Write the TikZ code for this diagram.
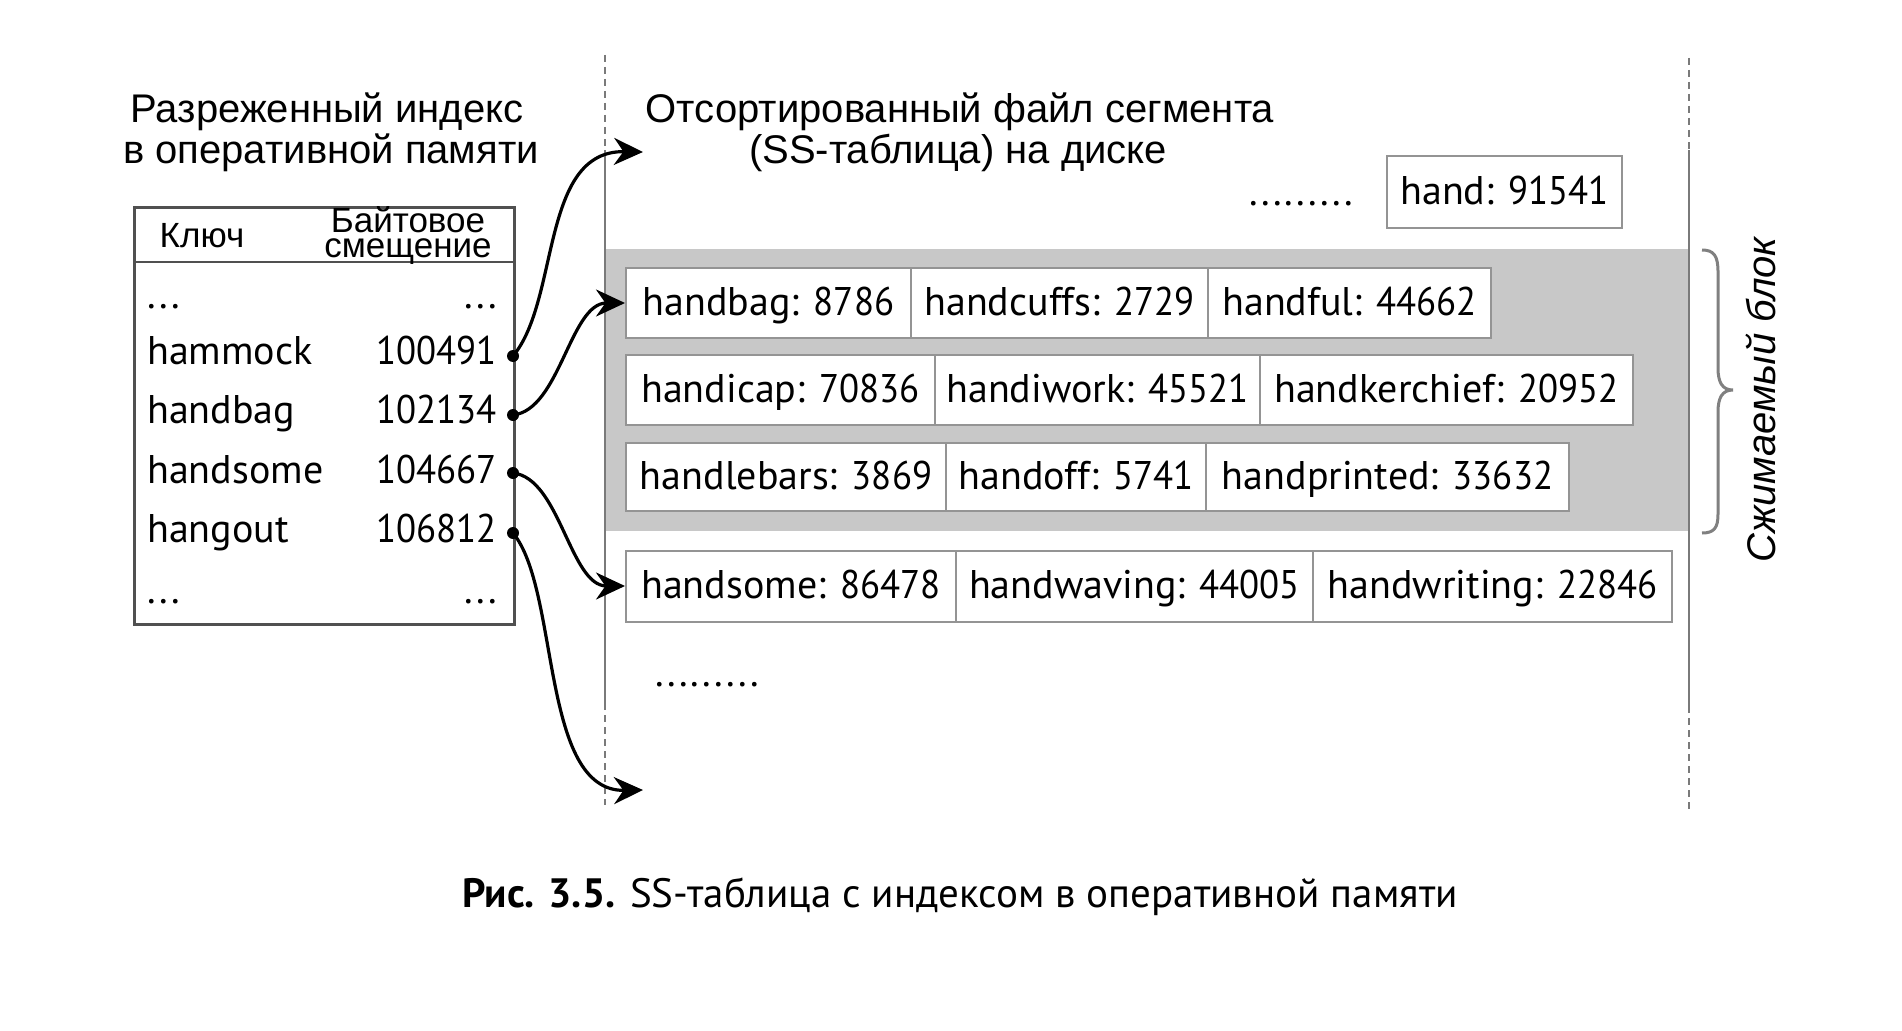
\documentclass[tikz,border=0pt]{standalone}
\usepackage{fontspec}
\setmainfont{Liberation Sans}
\newfontfamily\kvfont{PT Sans}
\newfontfamily\numfont{PT Sans}[FakeStretch=0.92]
\newfontfamily\capfont{PT Sans}
\newcommand\nf[1]{{\numfont #1}}
\newcommand\leaddots{.\kern3.3pt.\kern3.3pt.\kern3.3pt.\kern3.3pt.\kern3.3pt.\kern3.3pt.\kern3.3pt.\kern3.3pt.}
\newcommand\tdots{.\kern3.5pt.\kern3.5pt.}
\usetikzlibrary{arrows.meta}
\definecolor{blockgray}{HTML}{C8C8C8}
\definecolor{boxline}{HTML}{949494}
\definecolor{axisline}{HTML}{7A7A7A}
\definecolor{tblline}{HTML}{505050}
\definecolor{bracegray}{HTML}{808080}
\begin{document}
\begin{tikzpicture}[x=1pt,y=-1pt,
  kv/.style={draw=boxline, fill=white, line width=2pt, minimum height=70pt, anchor=west, inner sep=0pt, text height=31pt, text depth=7pt, font=\kvfont\fontsize{40}{48}\selectfont},
  tk/.style={inner sep=0pt, font=\kvfont\fontsize{40}{48}\selectfont},
  ttl/.style={anchor=base, inner sep=0pt, font=\fontsize{40}{40}\selectfont},
  hd/.style={anchor=base, inner sep=0pt, font=\fontsize{35}{25}\selectfont},
  dot/.style={circle, fill=black, inner sep=0pt, minimum size=12pt},
  arr/.style={line width=3.2pt, -{Stealth[length=29pt,width=27pt]}},
  axis/.style={axisline, line width=2.5pt}
]
\fill[white] (0,0) rectangle (1902,1030);
\useasboundingbox (0,0) rectangle (1902,1030);

% titles
\node[ttl] (t1a) at (327,122) {Разреженный индекс};
\node[ttl] (t1b) at (331,163) {в оперативной памяти};
\node[ttl] (t2a) at (960,122) {Отсортированный файл сегмента};
\node[ttl] (t2b) at (958,163) {(SS-таблица) на диске};

% gray block
\fill[blockgray] (605,249) rectangle (1689,531);

% vertical lines
\draw[axis, dash pattern=on 7pt off 5pt] (605,55) -- (605,805);
\draw[axis] (605,150) -- (605,710);
\draw[axis, dash pattern=on 7pt off 5pt] (1689,58) -- (1689,810);
\draw[axis] (1689,150) -- (1689,712);

% segment file entries
\node[kv, minimum width=235pt, minimum height=72pt] (hand) at (1386,192) {hand: \nf{91541}};
\node[tk, anchor=base] (lead1) at (1301,205) {\leaddots};

\node[kv, minimum width=285pt] (bag) at (625,303) {handbag: \nf{8786}};
\node[kv, minimum width=297pt] (cuffs) at (910,303) {handcuffs: \nf{2729}};
\node[kv, minimum width=283pt] (ful) at (1207,303) {handful: \nf{44662}};

\node[kv, minimum width=309pt] (icap) at (625,390) {handicap: \nf{70836}};
\node[kv, minimum width=325pt] (work) at (934,390) {handiwork: \nf{45521}};
\node[kv, minimum width=373pt] (kerch) at (1259,390) {handkerchief: \nf{20952}};

\node[kv, minimum width=320pt, minimum height=68pt] (bars) at (625,477) {handlebars: \nf{3869}};
\node[kv, minimum width=260pt, minimum height=68pt] (off) at (945,477) {handoff: \nf{5741}};
\node[kv, minimum width=363pt, minimum height=68pt] (print) at (1205,477) {handprinted: \nf{33632}};

\node[kv, minimum width=330pt, minimum height=71pt] (some) at (625,586) {handsome: \nf{86478}};
\node[kv, minimum width=357pt, minimum height=71pt] (wav) at (955,586) {handwaving: \nf{44005}};
\node[kv, minimum width=359pt, minimum height=71pt] (writ) at (1312,586) {handwriting: \nf{22846}};

\node[tk, anchor=base] (lead2) at (707,686) {\leaddots};

% brace and label
\draw[bracegray, line width=3pt] (1702,250) .. controls (1714,250) and (1718,256) .. (1718,272) -- (1718,368) .. controls (1718,382) and (1722,390) .. (1733,390) .. controls (1722,390) and (1718,398) .. (1718,412) -- (1718,514) .. controls (1718,528) and (1714,533) .. (1702,533);
\node[rotate=90, anchor=base, inner sep=0pt, font=\itshape\fontsize{40}{48}\selectfont] (cblock) at (1775,400) {Сжимаемый блок};

% sparse index table
\node[draw=tblline, line width=2.5pt, minimum width=380pt, minimum height=417pt, anchor=north west, inner sep=0pt] (tbl) at (133,206) {};
\draw[tblline, line width=2.5pt] (133,262) -- (513,262);
\node[hd] (hkey) at (202,247) {Ключ};
\node[hd, anchor=center, align=center] (hoff) at (408,235) {Байтовое\\смещение};

\node[tk, anchor=base west] (k0) at (147,308) {\tdots};
\node[tk, anchor=base east] (v0) at (497,308) {\tdots};
\node[tk, anchor=base west] (k1) at (147,364) {hammock};
\node[tk, anchor=base east] (v1) at (497,364) {\nf{100491}};
\node[tk, anchor=base west] (k2) at (147,423) {handbag};
\node[tk, anchor=base east] (v2) at (497,423) {\nf{102134}};
\node[tk, anchor=base west] (k3) at (147,483) {handsome};
\node[tk, anchor=base east] (v3) at (497,483) {\nf{104667}};
\node[tk, anchor=base west] (k4) at (147,542) {hangout};
\node[tk, anchor=base east] (v4) at (497,542) {\nf{106812}};
\node[tk, anchor=base west] (k5) at (147,603) {\tdots};
\node[tk, anchor=base east] (v5) at (497,603) {\tdots};

% pointers
\node[dot] (d1) at (513,356) {};
\node[dot] (d2) at (513,415) {};
\node[dot] (d3) at (513,473) {};
\node[dot] (d4) at (513,533) {};
\coordinate (tip1) at (643,152);
\coordinate (tip4) at (643,790);
\draw[arr] (d1.center) .. controls (560,300) and (540,150) .. (tip1);
\draw[arr] (d2.center) .. controls (560,410) and (570,303) .. (bag.west);
\draw[arr] (d3.center) .. controls (560,478) and (570,586) .. (some.west);
\draw[arr] (d4.center) .. controls (560,590) and (540,792) .. (tip4);

% caption
\node[anchor=base, inner sep=0pt, font=\capfont\fontsize{41}{48}\selectfont] (fig) at (960,907) {\textbf{Рис. 3.5.} SS-таблица с индексом в оперативной памяти};
\end{tikzpicture}
\end{document}
